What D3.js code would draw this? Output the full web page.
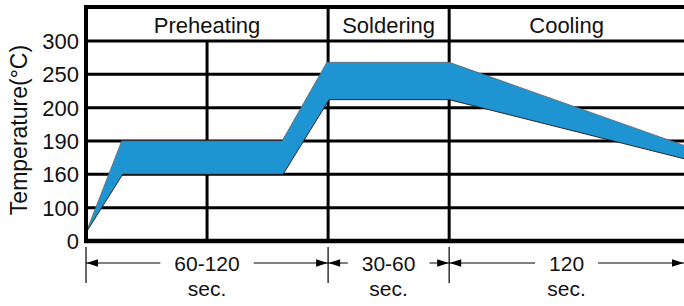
<!DOCTYPE html>
<html><head><meta charset="utf-8">
<script src="https://cdn.jsdelivr.net/npm/d3@7"></script>
<style>
body{margin:0;background:#fff}
svg{display:block}
text{font-family:"Liberation Sans",Arial,Helvetica,sans-serif;fill:#111}
</style>
</head><body>
<svg id="c" width="684" height="306"></svg>
<script>
// ---- data ----
const yTicks = [0, 100, 160, 190, 200, 250, 300];
const phases = ["Preheating", "Soldering", "Cooling"];
const phaseStart = [0, 2, 3];
const phaseEnd = [2, 3, 4.94];
const durations = ["60-120", "30-60", "120"];
const durationUnit = "sec.";
const gridT = [1, 2, 3];
const upperT = [0, 0.295, 1.62, 1.99, 3.0, 4.94];
const upperV = [25, 190, 190, 268, 268, 186];
const lowerT = [0, 0.303, 1.628, 2.008, 3.0, 4.94];
const lowerV = [25, 160, 160, 212, 212, 174];

// ---- layout ----
const mLeft = 86, mRight = 684, mTop = 7, yBottom = 241, yTopTick = 41;
const svg = d3.select("#c");

const x = d3.scaleLinear().domain([0, 4.94]).range([mLeft, mRight]);
const yPos = d3.scalePoint().domain(yTicks).range([yBottom, yTopTick]);
const y = d3.scaleLinear().domain(yTicks).range(yTicks.map(d => yPos(d)));

// grid horizontal
svg.append("g").selectAll("line").data(yTicks.filter(d => d !== 0)).join("line")
  .attr("x1", mLeft).attr("x2", mRight)
  .attr("y1", d => y(d)).attr("y2", d => y(d))
  .attr("stroke", "#000").attr("stroke-width", 3);

// grid vertical
svg.append("g").selectAll("line").data(gridT).join("line")
  .attr("x1", d => x(d)).attr("x2", d => x(d))
  .attr("y1", d => d === 1 ? y(300) : mTop).attr("y2", yBottom)
  .attr("stroke", "#000").attr("stroke-width", 3);

// band
const upperPts = upperT.map((t, i) => [x(t), y(upperV[i])]);
const lowerPts = lowerT.map((t, i) => [x(t), y(lowerV[i])]);
const line = d3.line();
svg.append("path")
  .attr("d", line(upperPts.concat(lowerPts.slice().reverse())) + "Z")
  .attr("fill", "#1f94d3");
svg.append("path").attr("d", line(upperPts)).attr("fill", "none")
  .attr("stroke", "#6a6a6a").attr("stroke-width", 0.9);
svg.append("path").attr("d", line(lowerPts)).attr("fill", "none")
  .attr("stroke", "#1a1a1a").attr("stroke-width", 0.9);

// frame: top, left, bottom
svg.append("line").attr("x1", mLeft - 2).attr("x2", mRight).attr("y1", mTop).attr("y2", mTop)
  .attr("stroke", "#000").attr("stroke-width", 4);
svg.append("line").attr("x1", mLeft).attr("x2", mLeft).attr("y1", mTop - 2).attr("y2", yBottom + 2)
  .attr("stroke", "#000").attr("stroke-width", 4);
svg.append("line").attr("x1", mLeft - 2).attr("x2", mRight).attr("y1", yBottom).attr("y2", yBottom)
  .attr("stroke", "#000").attr("stroke-width", 4.5);

// y tick labels
svg.append("g").selectAll("text").data(yTicks).join("text")
  .attr("x", 79).attr("y", d => y(d)).attr("dy", "0.36em")
  .attr("text-anchor", "end").style("font-size", "22px")
  .text(d => d);

// y title
svg.append("text")
  .attr("transform", "translate(27,130) rotate(-90)")
  .attr("text-anchor", "middle").style("font-size", "23px")
  .text("Temperature(°C)");

// phase headers
svg.append("g").selectAll("text").data(phases).join("text")
  .attr("x", (d, i) => (x(phaseStart[i]) + x(phaseEnd[i])) / 2)
  .attr("y", 32.5).attr("text-anchor", "middle").style("font-size", "22px")
  .text(d => d);

// duration annotations
const ay = 263;
const ann = svg.append("g");
phaseStart.forEach((s) => {
  ann.append("line").attr("x1", x(s)).attr("x2", x(s)).attr("y1", 247).attr("y2", 283)
    .attr("stroke", "#000").attr("stroke-width", 1.2);
});
phases.forEach((p, i) => {
  const x0 = x(phaseStart[i]), x1 = x(phaseEnd[i]);
  const cx = (x0 + x1) / 2;
  const t = ann.append("text").attr("x", cx).attr("y", 271).attr("text-anchor", "middle")
    .style("font-size", "21px").text(durations[i]);
  ann.append("text").attr("x", cx).attr("y", 296).attr("text-anchor", "middle")
    .style("font-size", "21px").text(durationUnit);
  const half = t.node().getComputedTextLength() / 2 + 14;
  ann.append("line").attr("x1", x0).attr("x2", cx - half).attr("y1", ay).attr("y2", ay)
    .attr("stroke", "#000").attr("stroke-width", 1);
  ann.append("line").attr("x1", cx + half).attr("x2", x1).attr("y1", ay).attr("y2", ay)
    .attr("stroke", "#000").attr("stroke-width", 1);
  ann.append("path").attr("d", `M${x0 + 0.5},${ay} L${x0 + 12},${ay - 3.8} L${x0 + 12},${ay + 3.8}Z`).attr("fill", "#000");
  ann.append("path").attr("d", `M${x1 - 0.5},${ay} L${x1 - 12},${ay - 3.8} L${x1 - 12},${ay + 3.8}Z`).attr("fill", "#000");
});
</script>
</body></html>
